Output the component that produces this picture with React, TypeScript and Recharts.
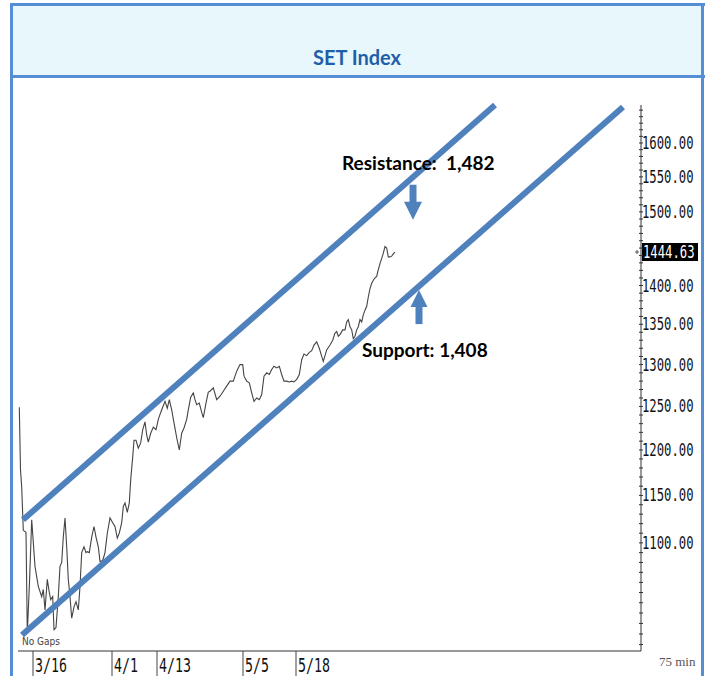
import React from 'react';
import { ComposedChart, Line, XAxis, YAxis, ReferenceLine, ReferenceDot } from 'recharts';

// 75-min bar position (bars from chart start) and close
const barPos = [
  0.65, 1.25, 1.85, 2.65, 4, 4.65, 5.75, 6.85, 8.5, 10.15, 11.85, 12.65, 13.5, 14.65, 15.65, 16.35, 17.35, 18, 19, 20.15,
  21, 21.85, 22.65, 23.5, 24.35, 25.15, 26, 26.85, 28, 29, 30.15, 31, 31.85, 33, 34, 34.65, 35.65, 36.85, 38, 39,
  40.15, 41, 42.35, 43.5, 44.65, 46, 47.35, 48.5, 49.65, 50.65, 51.85, 52.65, 53.5, 54.65, 55.65, 56.35, 57.35, 58, 59, 60.15,
  61.35, 62.35, 63.5, 64.35, 65.15, 66.35, 67.65, 69, 70.15, 71.35, 72.35, 73.5, 74.65, 75.65, 76.85, 78, 79.35, 80.65, 81.85, 83,
  84.35, 85.15, 86.35, 87.65, 88.5, 89.35, 90.65, 91.85, 92.65, 94, 95.15, 96, 97.65, 99.35, 101, 102.65, 104.35, 106, 107.65, 109.35,
  111, 112.35, 113, 114.35, 115.65, 116.85, 118, 119.35, 120.65, 121.85, 123, 124.35, 125.65, 126.85, 128, 129.35, 130.65, 131.85, 133, 134.35,
  135.65, 136.85, 138, 139.35, 140.65, 141.85, 143, 144.35, 145.65, 146.85, 148, 149.35, 150.65, 151.85, 152.65, 154.35, 156, 157.35, 158.5, 159.35,
  160.15, 161, 162.35, 163.5, 164.35, 165.15, 166, 166.85, 167.65, 168.5, 169.35, 170.15, 171, 171.85, 172.65, 173.5, 174.35, 175.15, 176, 176.85,
  177.65, 178.5, 179.35, 180.15, 181, 181.85, 182.65, 183.5, 184.35, 185.15, 186, 186.85, 187.65, 188.5,
];
const closes = [
  1249, 1178, 1159, 1113, 1111, 1011, 1060, 1124, 1076, 1056, 1046, 1053, 1033, 1063, 1050, 1043, 1046, 1014, 1016, 1046,
  1076, 1080, 1106, 1126, 1096, 1063, 1046, 1025, 1036, 1041, 1033, 1056, 1090, 1096, 1090, 1091, 1090, 1106, 1117, 1106,
  1096, 1081, 1082, 1090, 1110, 1126, 1121, 1117, 1105, 1110, 1121, 1138, 1142, 1132, 1142, 1167, 1192, 1211, 1211, 1202,
  1208, 1223, 1232, 1217, 1209, 1219, 1226, 1223, 1235, 1243, 1249, 1256, 1248, 1258, 1246, 1231, 1214, 1200, 1219, 1225,
  1235, 1246, 1261, 1266, 1258, 1252, 1254, 1243, 1237, 1254, 1267, 1268, 1272, 1258, 1262, 1268, 1274, 1280, 1280, 1292,
  1300, 1300, 1286, 1280, 1278, 1266, 1256, 1260, 1258, 1264, 1286, 1290, 1288, 1294, 1298, 1296, 1298, 1288, 1280, 1280,
  1279, 1280, 1279, 1282, 1288, 1306, 1313, 1311, 1315, 1317, 1324, 1328, 1320, 1310, 1304, 1318, 1324, 1330, 1339, 1341,
  1335, 1337, 1343, 1343, 1353, 1356, 1347, 1343, 1332, 1335, 1343, 1347, 1356, 1353, 1362, 1368, 1373, 1385, 1396, 1403,
  1407, 1410, 1412, 1421, 1429, 1436, 1443, 1452, 1450, 1438, 1438, 1439, 1442, 1444.63,
];

const dateTicks = [7.5, 47, 69.5, 112.5, 139];
const dateLabels = ['3/16', '4/1', '4/13', '5/5', '5/18'];
const priceLabels = [1100, 1150, 1200, 1250, 1300, 1350, 1400, 1500, 1550, 1600];
const lastPrice = 1444.63;

// trend channel end points [bar, price]
const resistanceLine = [[2.5, 1124], [238.5, 1658]];
const supportLine = [[2, 1009], [302.5, 1655]];
const resistanceArrow = [197.5, 1489];
const supportArrow = [200.5, 1394];

const priceData = barPos.map((u, i) => ({ u, v: closes[i] }));
const minorTicks = Array.from({ length: 66 }, (_, i) => 1000 + i * 10);

const mono = '"DejaVu Sans Mono", "Liberation Mono", monospace';
const blue = '#4F81BD';

const YTick = (props: any) => {
  const { x, y, payload } = props;
  const v = payload.value;
  return (
    <g>
      <line x1={x - 2} x2={x + 2} y1={y} y2={y} stroke="#333" strokeWidth={1} />
      {priceLabels.includes(v) && (
        <text transform={`translate(${x + 1},${y + 6}) scale(0.72,1)`} fontSize={17} fontFamily={mono} fill="#111">
          {v.toFixed(2)}
        </text>
      )}
    </g>
  );
};

const XTick = (props: any) => {
  const { x, y, payload } = props;
  const i = dateTicks.indexOf(payload.value);
  return (
    <g>
      <line x1={x} x2={x} y1={y} y2={y + 26} stroke="#444" strokeWidth={1} />
      <text transform={`translate(${x + 2},${y + 21}) scale(0.7,1)`} fontSize={19} fontFamily={mono} fill="#111">
        {dateLabels[i]}
      </text>
    </g>
  );
};

const LastTag = (p: any) => (
  <g>
    <line x1={p.cx - 6} x2={p.cx - 2} y1={p.cy} y2={p.cy} stroke="#555" />
    <line x1={p.cx - 4} x2={p.cx - 4} y1={p.cy - 2} y2={p.cy + 2} stroke="#555" />
    <rect x={p.cx + 1} y={p.cy - 9} width={56} height={18} fill="#000" />
    <text transform={`translate(${p.cx + 2},${p.cy + 6}) scale(0.72,1)`} fontSize={17} fontFamily={mono} fill="#fff">
      {lastPrice.toFixed(2)}
    </text>
  </g>
);

const DownArrow = (p: any) => (
  <g>
    <rect x={p.cx - 3.5} y={p.cy - 35} width={7} height={18} fill={blue} />
    <polygon points={`${p.cx - 9},${p.cy - 18} ${p.cx + 9},${p.cy - 18} ${p.cx},${p.cy}`} fill={blue} />
    <text x={p.cx - 71} y={p.cy - 50} fontSize={19} fontWeight={700} fontFamily="Lato, sans-serif" fill="#000">
      {'Resistance:\u00a0 1,482'}
    </text>
  </g>
);

const UpArrow = (p: any) => (
  <g>
    <rect x={p.cx - 3.5} y={p.cy + 16} width={7} height={18} fill={blue} />
    <polygon points={`${p.cx - 8.5},${p.cy + 17} ${p.cx + 8.5},${p.cy + 17} ${p.cx},${p.cy}`} fill={blue} />
    <text x={p.cx - 57} y={p.cy + 67} fontSize={19} fontWeight={700} fontFamily="Lato, sans-serif" fill="#000">
      Support: 1,408
    </text>
  </g>
);

export default function App() {
  const border = '#558ED5';
  return (
    <div style={{ position: 'absolute', left: 0, top: 0, width: 709, height: 676, background: '#fff', overflow: 'hidden' }}>
      <div style={{ position: 'absolute', left: 10, top: 3, width: 695, height: 3, background: border }} />
      <div style={{ position: 'absolute', left: 10, top: 3, width: 3, height: 680, background: border }} />
      <div style={{ position: 'absolute', left: 701, top: 3, width: 3, height: 680, background: border }} />
      <div style={{ position: 'absolute', left: 13, top: 6, width: 688, height: 69, background: '#E8F7FC' }} />
      <div style={{ position: 'absolute', left: 10, top: 75, width: 695, height: 3, background: border }} />
      <div
        style={{
          position: 'absolute', left: 13, top: 45, width: 688, textAlign: 'center',
          fontFamily: 'Lato, sans-serif', fontWeight: 700, fontSize: 20, color: '#1F5FAA',
        }}
      >
        SET Index
      </div>

      <div style={{ position: 'absolute', left: 13, top: 78 }}>
        <ComposedChart width={688} height={598} data={priceData} margin={{ top: 27, right: 0, bottom: 0, left: 5 }}>
          <XAxis
            dataKey="u"
            type="number"
            domain={[0, 311.5]}
            allowDataOverflow
            ticks={dateTicks}
            interval={0}
            tick={<XTick />}
            tickLine={false}
            tickSize={0}
            tickMargin={0}
            height={25}
            axisLine={{ stroke: '#333' }}
          />
          <YAxis
            orientation="right"
            scale="log"
            domain={[994, 1658]}
            allowDataOverflow
            ticks={minorTicks}
            interval={0}
            tick={<YTick />}
            tickLine={false}
            tickSize={0}
            tickMargin={0}
            width={60}
            axisLine={{ stroke: '#333' }}
          />
          <Line dataKey="v" type="linear" dot={false} stroke="#444" strokeWidth={1.1} isAnimationActive={false} />
          <ReferenceLine
            segment={resistanceLine.map(([x, y]) => ({ x, y }))}
            stroke={blue}
            strokeWidth={6}
            ifOverflow="visible"
          />
          <ReferenceLine
            segment={supportLine.map(([x, y]) => ({ x, y }))}
            stroke={blue}
            strokeWidth={6}
            ifOverflow="visible"
          />
          <ReferenceDot x={resistanceArrow[0]} y={resistanceArrow[1]} ifOverflow="visible" shape={<DownArrow />} />
          <ReferenceDot x={supportArrow[0]} y={supportArrow[1]} ifOverflow="visible" shape={<UpArrow />} />
          <ReferenceDot x={311.5} y={lastPrice} ifOverflow="visible" shape={<LastTag />} />
        </ComposedChart>
      </div>

      <div style={{ position: 'absolute', left: 22, top: 636, fontFamily: '"DejaVu Sans Condensed", sans-serif', fontSize: 10, color: '#444' }}>No Gaps</div>
      <div style={{ position: 'absolute', left: 659, top: 654, fontFamily: '"Liberation Serif", serif', fontSize: 13, color: '#555' }}>
        75 min
      </div>
    </div>
  );
}
